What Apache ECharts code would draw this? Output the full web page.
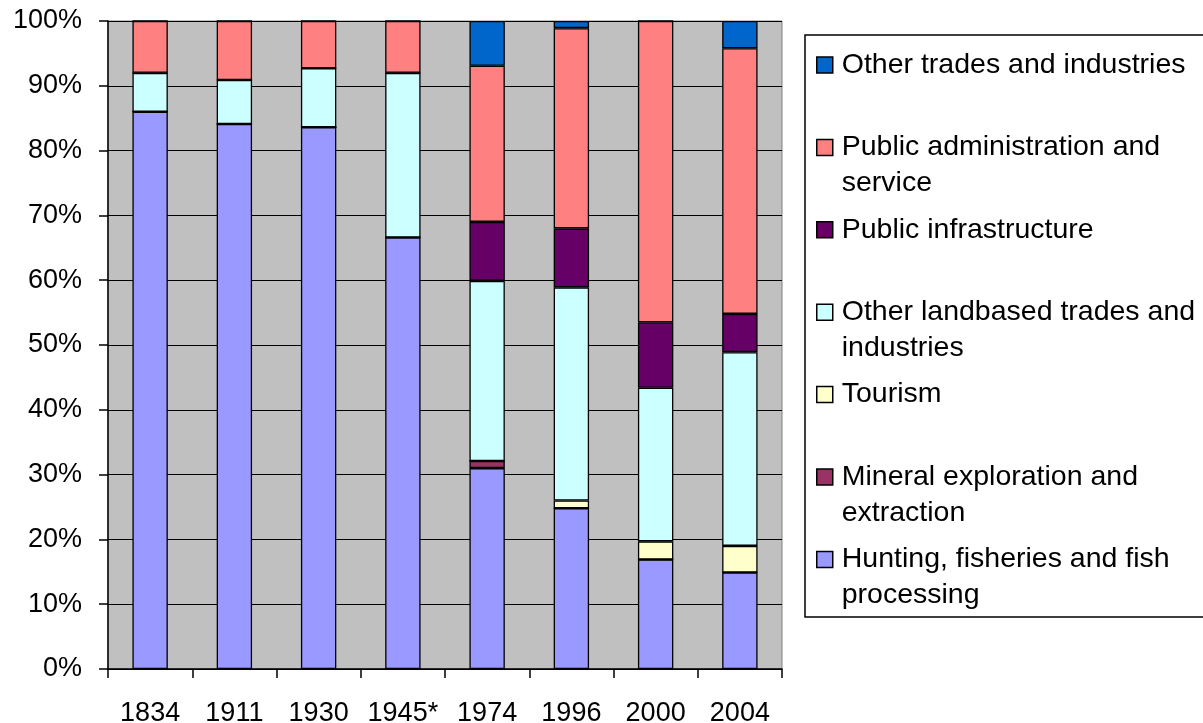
<!DOCTYPE html>
<html>
<head>
<meta charset="utf-8">
<script src="https://cdn.jsdelivr.net/npm/echarts@6/dist/echarts.min.js"></script>
<style>
  html, body { margin: 0; padding: 0; background: #fff; }
  #chart { width: 1203px; height: 723px; }
</style>
</head>
<body>
<div id="chart"></div>
<script>
// years on the x axis
const years = ['1834', '1911', '1930', '1945*', '1974', '1996', '2000', '2004'];

// shares in percent, bottom of the stack first
const hunting        = [86.0, 84.1, 83.6, 66.6, 31.0, 24.8, 16.9, 14.9];
const mineral        = [0, 0, 0, 0, 1.1, 0, 0, 0];
const tourism        = [0, 0, 0, 0, 0, 1.2, 2.8, 4.1];
const landbased      = [6.0, 6.8, 9.1, 25.4, 27.8, 32.9, 23.7, 29.9];
const infrastructure = [0, 0, 0, 0, 9.1, 9.1, 10.1, 5.9];
const administration = [8.0, 9.1, 7.3, 8.0, 24.1, 30.9, 46.5, 41.0];
const otherTrades    = [0, 0, 0, 0, 6.9, 1.1, 0, 4.2];

const seriesDefs = [
    { name: 'Hunting, fisheries and fish\nprocessing', data: hunting, color: '#9999FF' },
    { name: 'Mineral exploration and\nextraction', data: mineral, color: '#993366' },
    { name: 'Tourism', data: tourism, color: '#FFFFCC' },
    { name: 'Other landbased trades and\nindustries', data: landbased, color: '#CCFFFF' },
    { name: 'Public infrastructure', data: infrastructure, color: '#660066' },
    { name: 'Public administration and\nservice', data: administration, color: '#FF8080' },
    { name: 'Other trades and industries', data: otherTrades, color: '#0066CC' }
];

const font = "'Liberation Sans', Arial, sans-serif";

const chart = echarts.init(document.getElementById('chart'));

chart.setOption({
    animation: false,
    grid: {
        left: 108, right: 421, top: 21, bottom: 54,
        outerBoundsMode: 'none',
        show: true,
        backgroundColor: '#C0C0C0',
        borderColor: '#808080',
        borderWidth: 1
    },
    // legend: every label padded to three lines so the square sits on the first one
    legend: {
        orient: 'vertical',
        left: 816,
        top: 11,
        padding: 0,
        itemGap: -25.6,
        itemWidth: 16,
        itemHeight: 16,
        icon: 'rect',
        selectedMode: false,
        itemStyle: { borderColor: '#000', borderWidth: 1.5 },
        textStyle: { fontFamily: font, fontSize: 28.5, color: '#000', lineHeight: 36, padding: [0, 0, 0, 4] },
        formatter: (name) => {
            const lines = name.split('\n');
            return '\n' + lines[0] + '\n' + (lines[1] || '');
        },
        data: seriesDefs.map(s => s.name).reverse()
    },
    graphic: [{
        type: 'rect',
        shape: { x: 805, y: 35, width: 420, height: 582 },
        style: { fill: 'none', stroke: '#000', lineWidth: 1.5 },
        z: -1
    }],
    xAxis: {
        type: 'category',
        data: years,
        axisLine: { lineStyle: { color: '#000', width: 1.5 } },
        axisTick: { show: true, length: 9, lineStyle: { color: '#000', width: 1.5 } },
        axisLabel: { fontFamily: font, fontSize: 27, color: '#000', margin: 31, interval: 0 },
        splitLine: { show: false }
    },
    yAxis: {
        type: 'value',
        min: 0,
        max: 100,
        interval: 10,
        axisLine: { show: true, lineStyle: { color: '#000', width: 1.5 } },
        axisTick: { show: true, length: 9, lineStyle: { color: '#000', width: 1.5 } },
        axisLabel: { fontFamily: font, fontSize: 27, color: '#000', margin: 26, formatter: '{value}%' },
        splitLine: { show: true, lineStyle: { color: '#000', width: 1.2 } }
    },
    series: seriesDefs.map(s => ({
        name: s.name,
        type: 'bar',
        stack: 'total',
        barWidth: '42%',
        data: s.data,
        itemStyle: { color: s.color, borderColor: '#000', borderWidth: 1.3 }
    }))
});
</script>
</body>
</html>
